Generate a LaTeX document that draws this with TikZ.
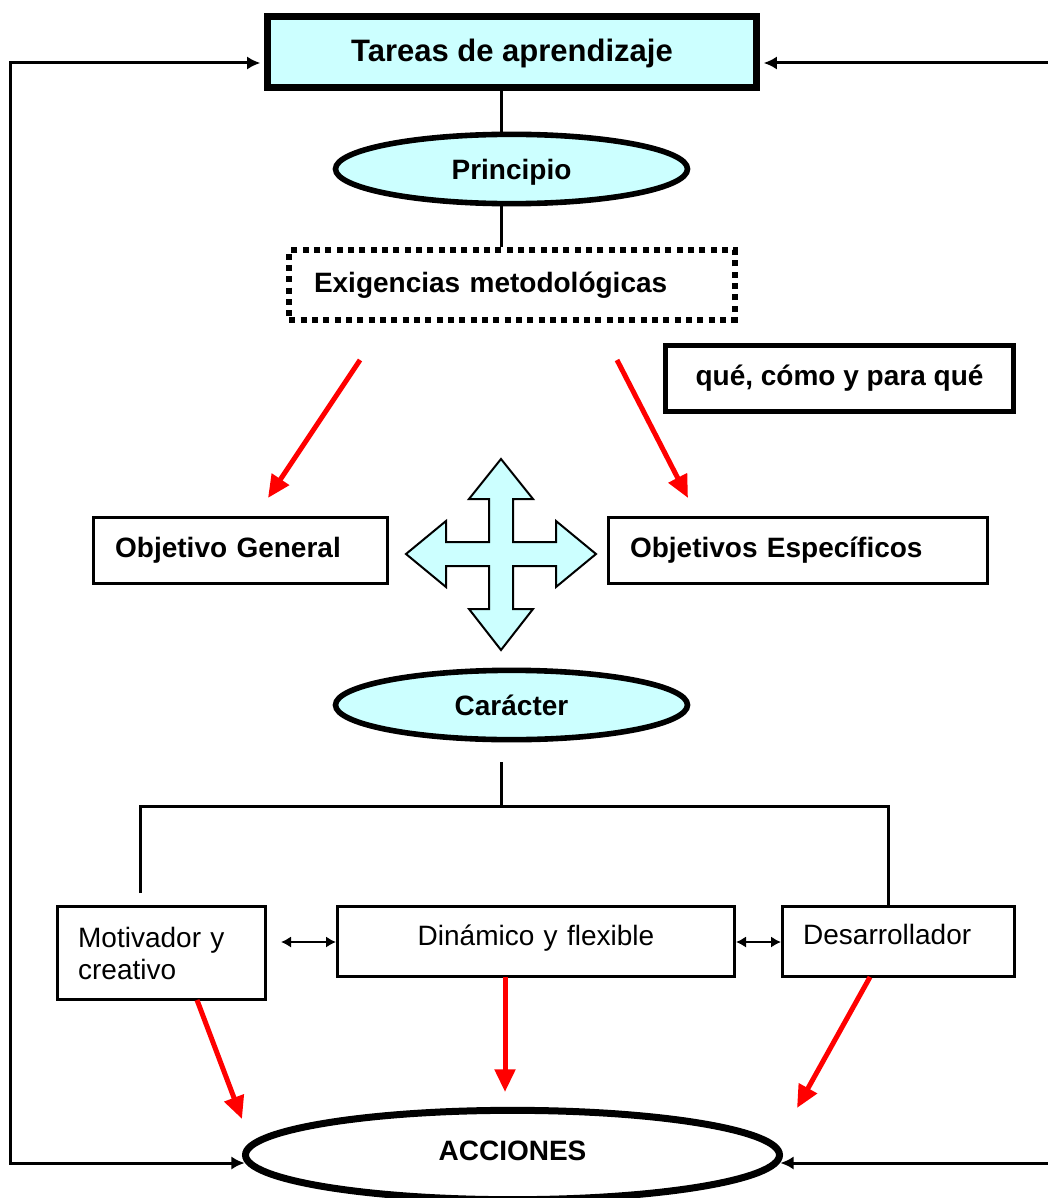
\documentclass[tikz,border=0pt]{standalone}
\usepackage{fontspec}
\setmainfont{Liberation Sans}
\usetikzlibrary{arrows.meta,shapes.geometric}
\definecolor{lcyan}{HTML}{CCFFFF}
\definecolor{rred}{HTML}{FF0000}
\begin{document}
\begin{tikzpicture}[x=0.75pt,y=-0.75pt,
  bfont/.style={font=\fontsize{21pt}{25pt}\selectfont\bfseries},
  rfont/.style={font=\fontsize{21pt}{24pt}\selectfont},
  conn/.style={line width=2.25pt},
  sidearrow/.style={line width=2.25pt,{Latex[length=10pt,width=10pt]}-{Latex[length=10pt,width=10pt]},line join=miter},
  dblarrow/.style={line width=1.5pt,{Latex[length=7.5pt,width=8.5pt]}-{Latex[length=7.5pt,width=8.5pt]}},
  redarrow/.style={draw=rred,line width=3.75pt,-{Triangle[length=17pt,width=15pt]}},
  oval/.style={ellipse,draw,inner sep=0pt,bfont},
  plainbox/.style={rectangle,draw,inner sep=0pt},
]
\useasboundingbox (0,0) rectangle (1048,1198);

% top box
\node[plainbox,line width=5.25pt,fill=lcyan,minimum width=367pt,minimum height=53pt,
      font=\fontsize{23.25pt}{28pt}\selectfont\bfseries,text depth=2pt] (tareas) at (512,52) {Tareas de aprendizaje};

% ellipses
\node[oval,line width=4.2pt,fill=lcyan,minimum width=264pt,minimum height=52pt,text depth=0pt] (principio) at (511.5,169) {Principio};
\node[oval,line width=4.2pt,fill=lcyan,minimum width=264pt,minimum height=52pt] (caracter) at (511.5,705) {Carácter};
\node[oval,line width=5.25pt,fill=white,minimum width=400.5pt,minimum height=67pt,text depth=7pt] (acciones) at (512.5,1155) {ACCIONES};

% dotted box
\node[plainbox,line width=4.5pt,dash pattern=on 4.5pt off 4pt,minimum width=334pt,minimum height=52pt,
      text width=297pt,align=left,bfont] (exig) at (512,285) {Exigencias metodológicas};

% que como box
\node[plainbox,line width=3.75pt,minimum width=261pt,minimum height=49.5pt,bfont] (que) at (839.5,378.5) {qué, cómo y para qué};

% objetivos
\node[plainbox,line width=2.25pt,minimum width=220.5pt,minimum height=49.5pt,
      text width=188pt,align=left,bfont,text depth=5pt] (ogen) at (240.5,550.5) {Objetivo General};
\node[plainbox,line width=2.25pt,minimum width=284.25pt,minimum height=49.5pt,
      text width=252pt,align=left,bfont,text depth=5pt] (oesp) at (798,550.5) {Objetivos Específicos};

% bottom boxes
\node[plainbox,line width=2.25pt,minimum width=156pt,minimum height=69.75pt,
      text width=125pt,align=left,rfont] (motiv) at (161.5,953) {Motivador y\\creativo};
\node[plainbox,line width=2.25pt,minimum width=297.75pt,minimum height=52.5pt,
      text width=290pt,align=center,rfont,text depth=10pt] (dinam) at (536,941.5) {Dinámico y flexible};
\node[plainbox,line width=2.25pt,minimum width=174pt,minimum height=52.5pt,
      text width=143pt,align=left,rfont,text depth=10pt] (desar) at (898.5,941.5) {Desarrollador};

% four-way arrow
\coordinate (fc) at (501,554);
\draw[line width=1.5pt,fill=lcyan,line join=miter,shift={(fc)}]
  (0,-95) -- (32,-55) -- (12,-55) -- (12,-12) -- (55,-12) -- (55,-33) -- (95,0) -- (55,33) -- (55,12)
  -- (12,12) -- (12,55) -- (32,55) -- (0,96) -- (-32,55) -- (-12,55) -- (-12,12) -- (-55,12) -- (-55,33)
  -- (-95,0) -- (-55,-33) -- (-55,-12) -- (-12,-12) -- (-12,-55) -- (-32,-55) -- cycle;

% vertical connectors
\coordinate (vx) at (501,0);
\draw[conn] (tareas.south -| vx) -- (principio.north -| vx);
\draw[conn] (principio.south -| vx) -- (exig.north -| vx);

% tree under Caracter
\coordinate (ct) at (501,762);
\coordinate (cj) at (501,806);
\coordinate (cl) at (140,806);
\coordinate (cr) at (888,806);
\coordinate (clb) at (140,893);
\draw[conn] (ct) -- (cj);
\draw[conn] (clb) -- (cl) -- (cr) -- (cr |- desar.north);

% side feedback arrows
\coordinate (lt) at (10,63);
\coordinate (lb) at (10,1163);
\coordinate (rt) at (1056,63);
\coordinate (rb) at (1056,1163);
\draw[sidearrow] ([xshift=-2.6pt]tareas.west |- lt) -- (lt) -- (lb) -- ([xshift=2pt]acciones.west |- lb);
\draw[sidearrow] ([xshift=2.6pt]tareas.east |- rt) -- (rt) -- (rb) -- ([xshift=-2pt]acciones.east |- rb);

% red arrows from Exigencias
\coordinate (r1s) at (360,360);
\coordinate (r1e) at (268,498);
\coordinate (r2s) at (617,360);
\coordinate (r2e) at (688,498);
\draw[redarrow] (r1s) -- (r1e);
\draw[redarrow] (r2s) -- (r2e);

% double arrows between bottom boxes
\coordinate (d1) at (281,942);
\draw[dblarrow] (d1) -- (dinam.west |- d1);
\draw[dblarrow] (dinam.east |- d1) -- (desar.west |- d1);

% red arrows to ACCIONES
\coordinate (a1s) at (197,1000);
\coordinate (a1e) at (242,1119);
\coordinate (a2s) at (505,977);
\coordinate (a2e) at (505,1092);
\coordinate (a3s) at (870,977);
\coordinate (a3e) at (797,1108);
\draw[redarrow] (a1s) -- (a1e);
\draw[redarrow] (a2s) -- (a2e);
\draw[redarrow] (a3s) -- (a3e);
\end{tikzpicture}
\end{document}
